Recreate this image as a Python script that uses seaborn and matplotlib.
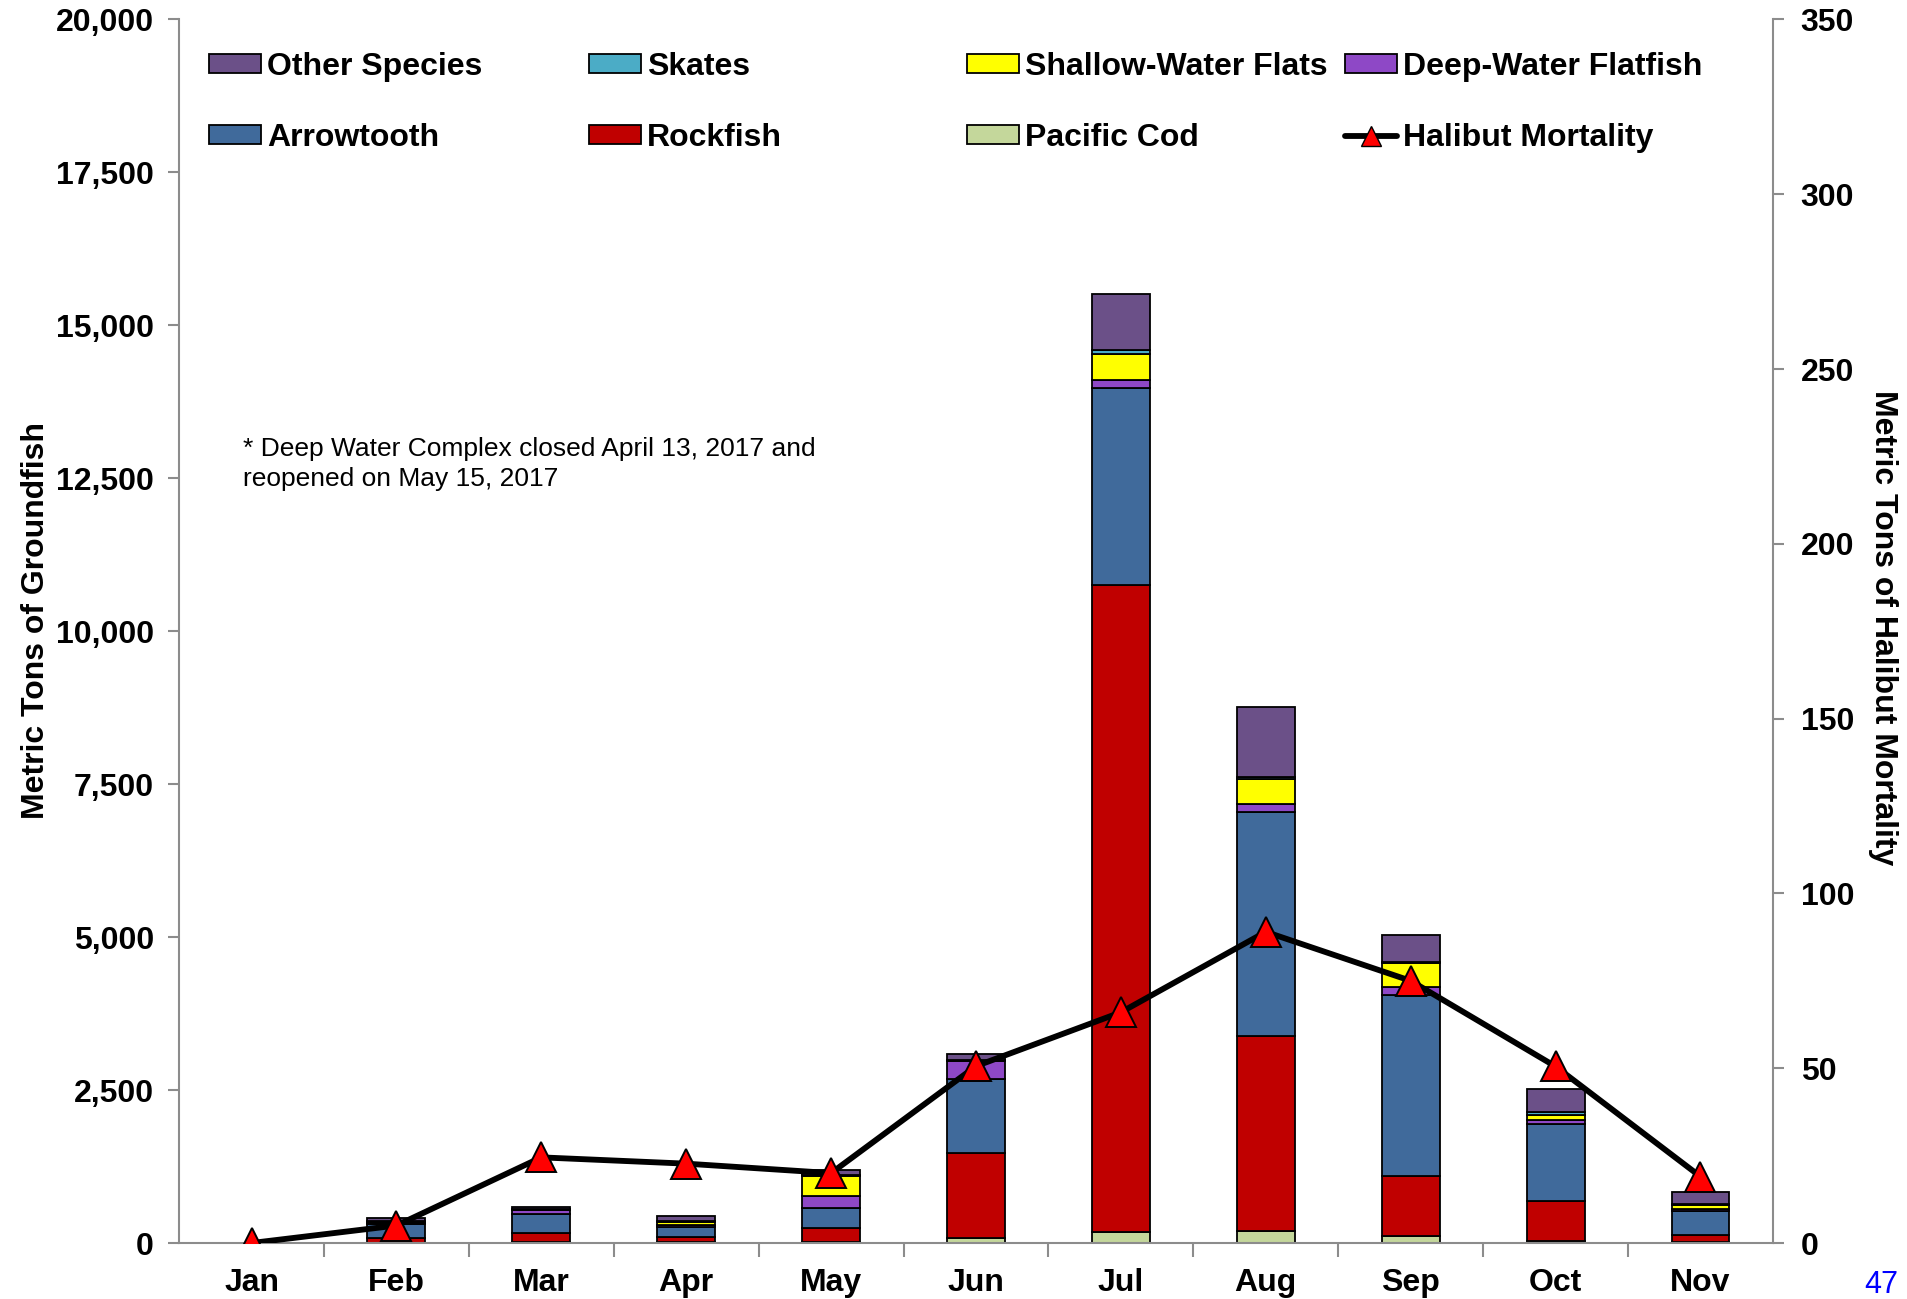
import numpy as np
import pandas as pd
import seaborn as sns
import matplotlib.pyplot as plt
from matplotlib.patches import Patch
from matplotlib.lines import Line2D
from matplotlib.ticker import FuncFormatter, MultipleLocator, FixedLocator

# Monthly catch (metric tons), stacked bottom -> top
months = ["Jan", "Feb", "Mar", "Apr", "May", "Jun", "Jul", "Aug", "Sep", "Oct", "Nov"]
pacific_cod = [0, 5, 10, 10, 20, 90, 180, 190, 110, 40, 15]
rockfish = [0, 70, 155, 85, 230, 1380, 10575, 3190, 980, 640, 120]
arrowtooth = [0, 230, 310, 160, 330, 1210, 3220, 3660, 2960, 1260, 385]
deep_water = [0, 30, 70, 45, 185, 300, 140, 130, 130, 70, 35]
shallow_water = [0, 10, 5, 45, 330, 10, 420, 420, 400, 80, 70]
skates = [0, 10, 5, 20, 20, 5, 60, 20, 20, 50, 20]
other_species = [0, 60, 27, 70, 82, 100, 910, 1150, 430, 380, 195]
halibut = [0, 5, 24.5, 22.7, 20, 50.6, 66, 89, 75, 50.5, 19]

layers = [
    ("Pacific Cod", pacific_cod, "#C4D79B"),
    ("Rockfish", rockfish, "#C00000"),
    ("Arrowtooth", arrowtooth, "#406A9B"),
    ("Deep-Water Flatfish", deep_water, "#8E48C6"),
    ("Shallow-Water Flats", shallow_water, "#FFFF00"),
    ("Skates", skates, "#4BACC6"),
    ("Other Species", other_species, "#6B5088"),
]

sns.set_style("ticks")
plt.rcParams["font.family"] = ["Liberation Sans", "DejaVu Sans"]
plt.rcParams["text.color"] = "black"

FS = 23

fig = plt.figure(figsize=(19.07, 12.99), dpi=100)
ax = fig.add_axes([0.0939, 0.0431, 0.9297 - 0.0939, 0.985 - 0.0431])

df = pd.DataFrame({"month": months})
bottom = np.zeros(len(months))
for name, vals, col in layers:
    df["value"] = vals
    sns.barplot(data=df, x="month", y="value", color=col, saturation=1,
                width=0.4, errorbar=None, bottom=bottom, edgecolor="black",
                linewidth=1.3, ax=ax)
    bottom = bottom + np.array(vals, dtype=float)

# hide empty segments
for p in ax.patches:
    if p.get_height() == 0:
        p.set_visible(False)

ax.set_ylim(0, 20000)
ax.yaxis.set_major_locator(MultipleLocator(2500))
ax.yaxis.set_major_formatter(FuncFormatter(lambda v, _: f"{v:,.0f}"))
ax.set_xlabel("")
ax.set_ylabel("")

ax2 = ax.twinx()
sns.lineplot(x=np.arange(len(months)), y=halibut, ax=ax2, color="black",
             linewidth=4.2, marker="^", markersize=21, markerfacecolor="#FF0000",
             markeredgecolor="black", markeredgewidth=1.4)
ax2.set_ylim(0, 350)
ax2.yaxis.set_major_locator(MultipleLocator(50))
ax.set_xlim(-0.5, len(months) - 0.5)

grey = "#8C8C8C"
for a in (ax, ax2):
    a.spines["top"].set_visible(False)
    for s in ("left", "right", "bottom"):
        a.spines[s].set_color(grey)
        a.spines[s].set_linewidth(1.5)
ax.spines["right"].set_visible(False)
ax2.spines["left"].set_visible(False)
ax2.spines["bottom"].set_visible(False)

ax.tick_params(axis="y", length=8, width=1.5, color=grey, pad=10,
               labelsize=FS, labelcolor="black")
ax2.tick_params(axis="y", length=8, width=1.5, color=grey, pad=12,
                labelsize=FS, labelcolor="black")
ax.tick_params(axis="x", which="major", length=0, pad=18, labelsize=FS,
               labelcolor="black")
ax.xaxis.set_minor_locator(FixedLocator(np.arange(0.5, len(months) - 1, 1.0)))
ax.tick_params(axis="x", which="minor", length=10, width=1.5, color=grey)
for lab in ax.get_xticklabels() + ax.get_yticklabels() + ax2.get_yticklabels():
    lab.set_fontweight("bold")

fig.text(36 / 1907, 1 - 620 / 1299, "Metric Tons of Groundfish", rotation=90,
         ha="center", va="center", fontsize=FS, fontweight="bold")
fig.text(1883 / 1907, 1 - 628 / 1299, "Metric Tons of Halibut Mortality", rotation=270,
         ha="center", va="center", fontsize=FS, fontweight="bold")

fig.text(243 / 1907, 1 - 437 / 1299,
         "* Deep Water Complex closed April 13, 2017 and\nreopened on May 15, 2017",
         ha="left", va="top", fontsize=19, linespacing=1.3)
fig.text(1881 / 1907, 1 - 1285 / 1299, "47", color="#0000FF", fontsize=22,
         ha="center", va="center")

# legend: four columns laid out evenly like the original
colors = {name: col for name, _, col in layers}
halibut_handle = Line2D([], [], color="black", linewidth=4.2, marker="^", markersize=15,
                        markerfacecolor="#FF0000", markeredgecolor="black")
columns = [
    ("Other Species", "Arrowtooth"),
    ("Skates", "Rockfish"),
    ("Shallow-Water Flats", "Pacific Cod"),
    ("Deep-Water Flatfish", "Halibut Mortality"),
]
col_x = [209, 589, 967, 1345]
for (top, bot), x in zip(columns, col_x):
    handles, labels = [], []
    for name in (top, bot):
        if name == "Halibut Mortality":
            handles.append(halibut_handle)
        else:
            handles.append(Patch(facecolor=colors[name], edgecolor="black", linewidth=1.3))
        labels.append(name)
    fig.legend(handles, labels, loc="upper left",
               bbox_to_anchor=(x / 1907, 1 - 52 / 1299), frameon=False,
               borderpad=0, borderaxespad=0, handlelength=1.63, handleheight=0.53,
               handletextpad=0.18, labelspacing=1.28,
               prop={"size": FS, "weight": "bold"})

fig.savefig("out.png", dpi=100)
